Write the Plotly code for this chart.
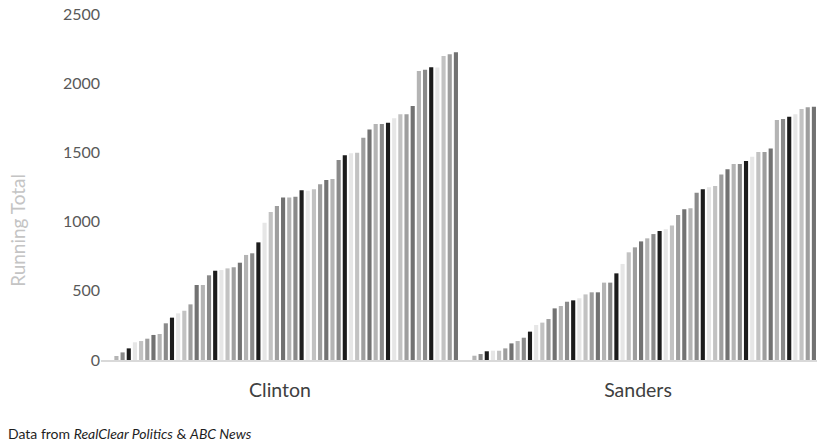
import plotly.graph_objects as go

# Delegate running totals after each contest, in calendar order
candidates = ["Clinton", "Sanders"]

clinton_totals = [
    0, 0, 29, 55, 84, 128, 137, 154, 181, 188,
    265, 306, 337, 356, 402, 542, 542, 612, 645, 650,
    662, 670, 703, 759, 771, 850, 992, 1069, 1113, 1174,
    1174, 1180, 1226, 1223, 1233, 1269, 1301, 1308, 1445, 1479,
    1493, 1498, 1606, 1666, 1705, 1705, 1715, 1746, 1775, 1775,
    1835, 2088, 2098, 2115, 2113, 2197, 2209, 2223,
]

sanders_totals = [
    0, 0, 31, 43, 63, 67, 67, 84, 120, 137,
    161, 205, 253, 270, 296, 373, 390, 421, 431, 446,
    474, 489, 489, 559, 559, 626, 694, 778, 814, 857,
    879, 910, 932, 944, 971, 1048, 1089, 1096, 1209, 1233,
    1248, 1257, 1341, 1378, 1416, 1416, 1438, 1469, 1503, 1503,
    1529, 1734, 1741, 1758, 1775, 1814, 1826, 1830,
]

# Repeating monochrome series palette
shades = ["#e6e6e6", "#c2c2c2", "#9e9e9e", "#727272", "#b4b4b4", "#8a8a8a", "#1c1c1c"]

fig = go.Figure()
for i, (c, s) in enumerate(zip(clinton_totals, sanders_totals)):
    fig.add_trace(go.Bar(
        x=candidates,
        y=[c, s],
        name=f"Contest {i + 1}",
        marker=dict(color=shades[(i + 2) % len(shades)], line=dict(width=0)),
        showlegend=False,
    ))

fig.update_layout(
    width=818,
    height=447,
    margin=dict(l=101, r=1, t=14, b=87),
    paper_bgcolor="white",
    plot_bgcolor="white",
    barmode="group",
    bargap=0,
    bargroupgap=0.33,
    font=dict(family="Lato, 'Open Sans', sans-serif", color="#595959"),
    xaxis=dict(
        range=[-0.5, 1.5],
        showgrid=False,
        showline=True,
        linecolor="#d9d9d9",
        linewidth=1.5,
        ticks="",
        tickfont=dict(size=19.5, color="#404040"),
        ticklabelstandoff=12,
        zeroline=False,
    ),
    yaxis=dict(
        range=[0, 2500],
        tickvals=[0, 500, 1000, 1500, 2000, 2500],
        showgrid=False,
        showline=False,
        zeroline=False,
        ticks="",
        tickfont=dict(size=16, color="#595959"),
    ),
    annotations=[
        dict(
            text="Running Total",
            textangle=-90,
            xref="paper", yref="paper",
            x=-0.116, y=0.376,
            xanchor="center", yanchor="middle",
            showarrow=False,
            font=dict(size=19, color="#c4c4c4"),
        ),
        dict(
            text="Data from <i>RealClear Politics</i> & <i>ABC News</i>",
            xref="paper", yref="paper",
            x=-0.132, y=-0.212,
            xanchor="left", yanchor="middle",
            showarrow=False,
            font=dict(size=14, color="#1e1e1e"),
        ),
    ],
)

fig.write_html("out.html")
